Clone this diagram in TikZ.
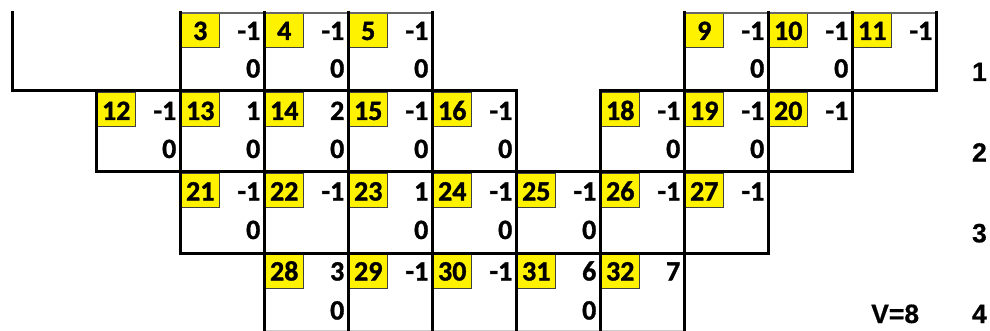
\documentclass[tikz,border=0pt]{standalone}
\usepackage{fontspec}
\setmainfont{Carlito}[BoldFeatures={FakeBold=1.2}]
\newfontfamily\labfont{Liberation Sans}[BoldFeatures={FakeBold=0.6}]
\tikzset{
  thickln/.style={line width=3pt, black, line cap=rect},
  thinln/.style={line width=1.1pt, black!60},
  faintln/.style={line width=0.8pt, black!20},
  numbox/.style={fill=yellow, draw=black!75, line width=0.8pt},
  celltxt/.style={inner sep=0pt, font=\fontsize{28}{32}\selectfont\bfseries},
  labtxt/.style={inner sep=0pt, font=\labfont\fontsize{26.5}{30}\selectfont\bfseries},
}
% row geometry: box top, top-value baseline, bottom-value baseline
\expandafter\def\csname bt1\endcsname{13.3}
\expandafter\def\csname bt2\endcsname{92.5}
\expandafter\def\csname bt3\endcsname{173.2}
\expandafter\def\csname bt4\endcsname{254.2}
\expandafter\def\csname ta1\endcsname{40}
\expandafter\def\csname ta2\endcsname{120}
\expandafter\def\csname ta3\endcsname{200.5}
\expandafter\def\csname ta4\endcsname{280.5}
\expandafter\def\csname tb1\endcsname{77.5}
\expandafter\def\csname tb2\endcsname{158}
\expandafter\def\csname tb3\endcsname{239}
\expandafter\def\csname tb4\endcsname{319.5}
\newcommand\gcell[5]{%
  \pgfmathsetmacro\gx{12+84*#1}%
  \edef\gy{\csname bt#2\endcsname}%
  \edef\ga{\csname ta#2\endcsname}%
  \edef\gb{\csname tb#2\endcsname}%
  \draw[numbox] (\gx+1.5,\gy) rectangle (\gx+39,\gy+34);
  \node[celltxt, anchor=base] (c#3) at (\gx+20.25,\ga) {#3};
  \node[celltxt, anchor=base east] (t#3) at (\gx+80.5,\ga) {#4};
  \node[celltxt, anchor=base east] (b#3) at (\gx+80.5,\gb) {#5};
}
\begin{document}
\begin{tikzpicture}[x=1pt,y=-1pt]
\useasboundingbox (0,0) rectangle (990,331);
% cells
\gcell{2}{1}{3}{-1}{0}
\gcell{3}{1}{4}{-1}{0}
\gcell{4}{1}{5}{-1}{0}
\gcell{8}{1}{9}{-1}{0}
\gcell{9}{1}{10}{-1}{0}
\gcell{10}{1}{11}{-1}{}
\gcell{1}{2}{12}{-1}{0}
\gcell{2}{2}{13}{1}{0}
\gcell{3}{2}{14}{2}{0}
\gcell{4}{2}{15}{-1}{0}
\gcell{5}{2}{16}{-1}{0}
\gcell{7}{2}{18}{-1}{0}
\gcell{8}{2}{19}{-1}{0}
\gcell{9}{2}{20}{-1}{}
\gcell{2}{3}{21}{-1}{0}
\gcell{3}{3}{22}{-1}{}
\gcell{4}{3}{23}{1}{0}
\gcell{5}{3}{24}{-1}{0}
\gcell{6}{3}{25}{-1}{0}
\gcell{7}{3}{26}{-1}{}
\gcell{8}{3}{27}{-1}{}
\gcell{3}{4}{28}{3}{0}
\gcell{4}{4}{29}{-1}{}
\gcell{5}{4}{30}{-1}{}
\gcell{6}{4}{31}{6}{0}
\gcell{7}{4}{32}{7}{}
% thin top lines and faint bottom line
\draw[thinln] (180,13) -- (432,13);
\draw[thinln] (684,13) -- (936,13);
\draw[faintln] (264,330.5) -- (684,330.5);
% thick horizontal lines
\draw[thickln] (12,91) -- (516,91);
\draw[thickln] (600,91) -- (936,91);
\draw[thickln] (96,172) -- (852,172);
\draw[thickln] (180,253) -- (768,253);
% thick vertical lines
\draw[thickln] (12,13) -- (12,91);
\draw[thickln] (96,91) -- (96,172);
\draw[thickln] (180,13) -- (180,253);
\draw[thickln] (264,13) -- (264,332);
\draw[thickln] (348,13) -- (348,332);
\draw[thickln] (432,13) -- (432,332);
\draw[thickln] (516,91) -- (516,332);
\draw[thickln] (600,91) -- (600,332);
\draw[thickln] (684,13) -- (684,332);
\draw[thickln] (768,13) -- (768,253);
\draw[thickln] (852,13) -- (852,172);
\draw[thickln] (936,13) -- (936,91);
% row labels
\node[labtxt, anchor=base east] (r1) at (987,81) {1};
\node[labtxt, anchor=base east] (r2) at (987,161.7) {2};
\node[labtxt, anchor=base east] (r3) at (987,242.3) {3};
\node[labtxt, anchor=base east] (r4) at (987,323) {4};
\node[labtxt, anchor=base west] (vv) at (871,323) {V=8};
\end{tikzpicture}
\end{document}
